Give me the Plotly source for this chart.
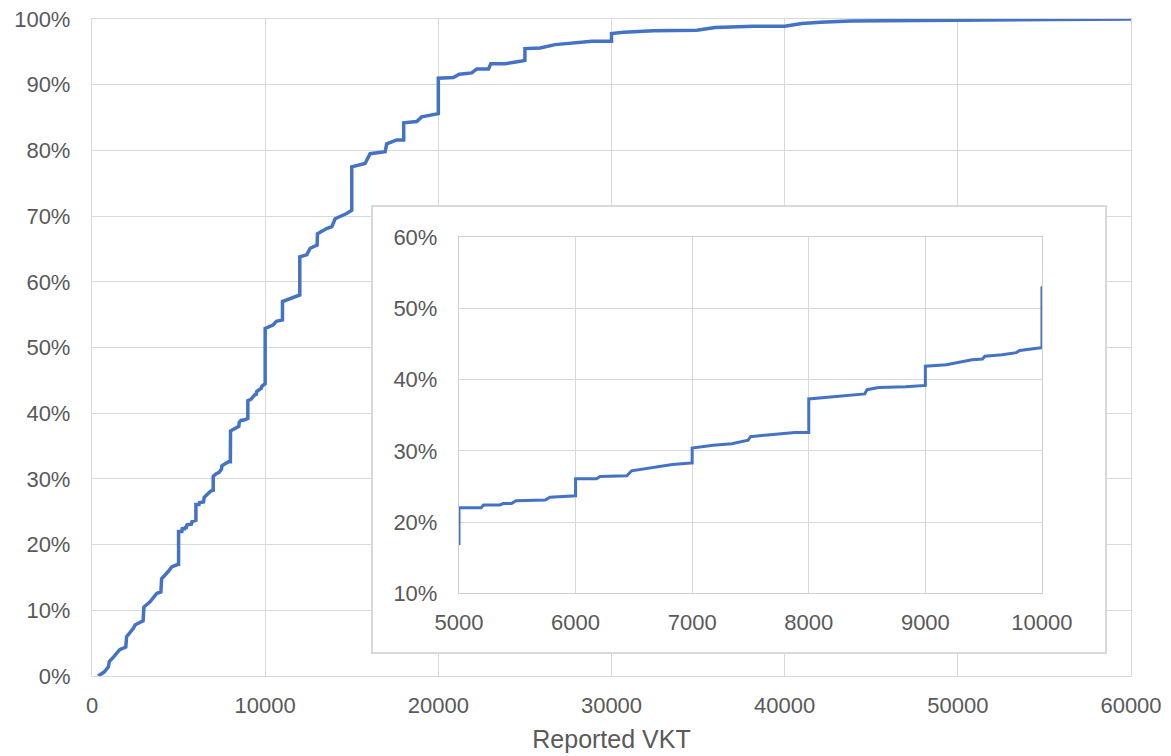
import plotly.graph_objects as go

# Cumulative share of respondents (%) by reported VKT (km)
vkt = [350, 700, 950, 1000, 1250, 1600, 1950, 2000, 2400, 2500, 2950, 3000, 3350, 3750, 3980,
       4020, 4400, 4600, 4980,
       5000, 5000, 5190, 5210, 5350, 5380, 5450, 5490, 5740, 5780, 5990,
       6000, 6000, 6180, 6210, 6440, 6480, 6670, 6830, 6990,
       7000, 7000, 7080, 7180, 7340, 7450, 7480, 7500, 7710, 7880, 7990,
       8000, 8000, 8200, 8370, 8480, 8500, 8600, 8830, 8990,
       9000, 9000, 9180, 9400, 9490, 9510, 9660, 9780, 9810, 9990,
       10000, 10000, 10450, 10650, 10980,
       11000, 11000, 11900, 12000, 12000, 12400, 12600, 12950, 13000, 13020, 13550, 13850,
       14040, 14700, 14990, 15000, 15000, 15770, 16060, 16930, 17020, 17600, 17950,
       18000, 18000, 18750, 19040, 19520, 19950, 20000, 20000, 20870, 21210, 21930, 22220,
       22900, 23030, 23860, 24820, 25000, 25000, 25880, 26750, 27800, 28870, 29950,
       30000, 30000, 30700, 32430, 34930, 35990, 38200, 40000, 41000, 42060, 43800,
       49950, 60000]
share = [0.0, 0.6, 1.4, 2.2, 2.9, 4.0, 4.4, 6.0, 7.3, 7.8, 8.4, 10.5, 11.3, 12.6, 12.8,
         14.8, 15.9, 16.6, 17.0,
         17.0, 22.0, 22.0, 22.4, 22.4, 22.6, 22.6, 23.0, 23.1, 23.5, 23.7,
         23.7, 26.1, 26.1, 26.4, 26.5, 27.2, 27.7, 28.1, 28.3,
         28.3, 30.4, 30.6, 30.8, 31.0, 31.4, 31.5, 32.0, 32.3, 32.6, 32.6,
         32.6, 37.3, 37.6, 37.8, 38.0, 38.6, 38.9, 39.0, 39.2,
         39.2, 41.9, 42.1, 42.8, 42.9, 43.3, 43.5, 43.8, 44.1, 44.5,
         44.5, 52.9, 53.4, 54.0, 54.2,
         54.2, 57.0, 58.0, 58.0, 63.8, 64.1, 65.1, 65.6, 65.6, 67.3, 68.1, 68.4,
         69.6, 70.4, 70.9, 70.9, 77.5, 78.0, 79.5, 79.8, 81.0, 81.6, 81.6,
         81.6, 84.2, 84.4, 85.1, 85.3, 85.6, 85.6, 91.0, 91.1, 91.6, 91.8, 92.4,
         92.4, 93.2, 93.2, 93.6, 93.7, 95.5, 95.6, 96.1, 96.3, 96.6, 96.6,
         96.6, 97.8, 98.0, 98.2, 98.3, 98.7, 98.9, 98.9, 99.3, 99.5, 99.7,
         99.8, 100.0]

main_xticks = [0, 10000, 20000, 30000, 40000, 50000, 60000]
main_yticks = [0, 10, 20, 30, 40, 50, 60, 70, 80, 90, 100]
inset_xticks = [5000, 6000, 7000, 8000, 9000, 10000]
inset_yticks = [10, 20, 30, 40, 50, 60]

LINE = "#4472C4"
GRID = "#D9D9D9"
TXT = "#595959"
FONT = "Liberation Sans, Arial, sans-serif"

fig = go.Figure()
fig.add_trace(go.Scatter(x=vkt, y=share, mode="lines", line=dict(color=LINE, width=3.5),
                         xaxis="x", yaxis="y", showlegend=False, hoverinfo="skip"))
# empty trace so that the inset frame subplot is created
fig.add_trace(go.Scatter(x=[None], y=[None], mode="lines", xaxis="x2", yaxis="y2",
                         showlegend=False, hoverinfo="skip"))
fig.add_trace(go.Scatter(x=vkt, y=share, mode="lines", line=dict(color=LINE, width=3.0),
                         xaxis="x3", yaxis="y3", showlegend=False, hoverinfo="skip"))

tickfont = dict(family=FONT, size=22, color=TXT)

# page body has an 8px margin, so the figure is 8px smaller and offset
fig.update_layout(
    width=1163, height=748,
    margin=dict(l=84, r=40, t=11, b=80),
    paper_bgcolor="white", plot_bgcolor="white",
    font=dict(family=FONT, color=TXT),
    xaxis=dict(domain=[0, 1], range=[0, 60000], tickvals=main_xticks,
               ticktext=[str(v) for v in main_xticks], automargin=False,
               ticklabeloverflow="allow",
               showgrid=True, gridcolor=GRID, gridwidth=1.3, showline=True, mirror=True,
               linecolor=GRID, linewidth=1.3, ticks="", zeroline=False,
               tickfont=tickfont, ticklabelstandoff=9,
               title=dict(text="Reported VKT", font=dict(family=FONT, size=25, color=TXT), standoff=13)),
    yaxis=dict(domain=[0, 1], range=[0, 100], tickvals=main_yticks,
               ticktext=[f"{v}%" for v in main_yticks], automargin=False,
               ticklabeloverflow="allow",
               showgrid=True, gridcolor=GRID, gridwidth=1.3, showline=True, mirror=True,
               linecolor=GRID, linewidth=1.3, ticks="", zeroline=False,
               tickfont=tickfont, ticklabelstandoff=16),
    # frame of the inset (white panel with light border)
    xaxis2=dict(domain=[0.2705, 0.975], anchor="y2", range=[0, 1], showgrid=False,
                zeroline=False, showticklabels=False, ticks="", showline=True, mirror=True,
                linecolor=GRID, linewidth=1.5, fixedrange=True, automargin=False),
    yaxis2=dict(domain=[0.0365, 0.7138], anchor="x2", range=[0, 1], showgrid=False,
                zeroline=False, showticklabels=False, ticks="", showline=True, mirror=True,
                linecolor=GRID, linewidth=1.5, fixedrange=True, automargin=False),
    # inset plot
    xaxis3=dict(domain=[0.3532, 0.9143], anchor="y3", range=[5000, 10000], tickvals=inset_xticks,
                ticktext=[str(v) for v in inset_xticks], automargin=False,
                showgrid=True, gridcolor=GRID, gridwidth=1.3, showline=True,
                mirror=True, linecolor="#CFCFCF", linewidth=1.3, ticks="", zeroline=False,
                tickfont=tickfont, ticklabelstandoff=9),
    yaxis3=dict(domain=[0.1259, 0.6677], anchor="x3", range=[10, 60], tickvals=inset_yticks,
                ticktext=[f"{v}%" for v in inset_yticks], automargin=False,
                showgrid=True, gridcolor=GRID, gridwidth=1.3, showline=True,
                mirror=True, linecolor="#CFCFCF", linewidth=1.3, ticks="", zeroline=False,
                tickfont=tickfont, ticklabelstandoff=16),
)

fig.write_html("out.html")
